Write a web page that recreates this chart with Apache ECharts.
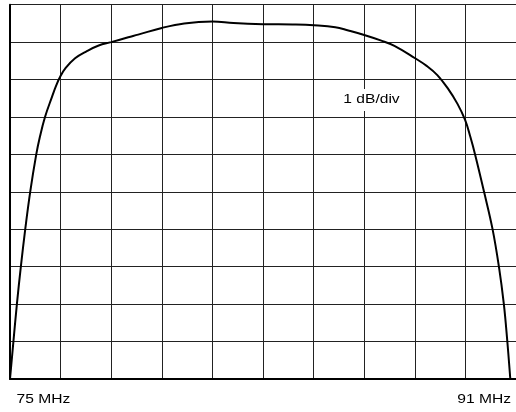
<!DOCTYPE html>
<html>
<head>
<meta charset="utf-8">
<script src="https://cdn.jsdelivr.net/npm/echarts@6/dist/echarts.min.js"></script>
<style>
html,body{margin:0;padding:0;background:#fff;}
#c{width:516px;height:412px;}
</style>
</head>
<body>
<div id="c"></div>
<script>
// Frequency above 75 MHz (MHz)
var freqOffset = [0, 0.109, 0.218, 0.343, 0.483, 0.639, 0.826, 0.951, 1.107, 1.325, 1.465, 1.59, 1.761, 2.057, 2.431, 2.805, 3.2, 3.74, 4.052, 4.8, 5.508, 6.405, 7.066, 8.0, 8.936, 9.61, 10.286, 10.70, 11.2, 11.74, 12.155, 12.81, 13.185, 13.512, 13.839, 14.15, 14.39, 14.556, 14.712, 14.99, 15.257, 15.46, 15.616, 15.725, 15.82];
// Relative response (dB)
var responseDb = [-10.0, -8.99, -8.0, -7.0, -5.99, -5.0, -4.02, -3.51, -3.0, -2.47, -2.15, -1.92, -1.69, -1.43, -1.24, -1.09, -1.0, -0.87, -0.80, -0.62, -0.50, -0.45, -0.49, -0.52, -0.53, -0.55, -0.60, -0.69, -0.81, -0.96, -1.10, -1.43, -1.64, -1.88, -2.23, -2.65, -3.08, -3.53, -4.02, -5.0, -5.99, -7.0, -8.0, -8.99, -10.0];
var freqLabels = ['75 MHz', '91 MHz'];
var scaleLabel = '1 dB/div';

var chart = echarts.init(document.getElementById('c'), null, {renderer: 'canvas'});
var pts = freqOffset.map(function (f, i) { return [f, responseDb[i]]; });
var font = '12px "Liberation Sans", Arial, sans-serif';
chart.setOption({
  animation: false,
  backgroundColor: '#fff',
  grid: {left: 10, right: -7.3, top: 4.7, bottom: 33},
  xAxis: {
    type: 'value', min: 0, max: 16, interval: 1.6,
    axisLine: {show: true, onZero: false, lineStyle: {color: '#000', width: 2}},
    axisTick: {show: false}, axisLabel: {show: false},
    splitLine: {show: true, lineStyle: {color: '#222', width: 1}}
  },
  yAxis: {
    type: 'value', min: -10, max: 0, interval: 1,
    axisLine: {show: true, lineStyle: {color: '#000', width: 2}},
    axisTick: {show: false}, axisLabel: {show: false},
    splitLine: {show: true, lineStyle: {color: '#222', width: 1}}
  },
  series: [{
    type: 'line', data: pts, showSymbol: false, smooth: 0.4,
    lineStyle: {color: '#000', width: 2}
  }],
  graphic: [
    {type: 'text', x: 16.5, y: 399.5, scaleX: 1.3, z: 10,
     style: {text: freqLabels[0], font: font, fill: '#000', align: 'left', verticalAlign: 'middle'}},
    {type: 'text', x: 511, y: 399.5, scaleX: 1.3, z: 10,
     style: {text: freqLabels[1], font: font, fill: '#000', align: 'right', verticalAlign: 'middle'}},
    {type: 'text', x: 342, y: 100, scaleX: 1.3, z: 10,
     style: {text: scaleLabel, font: font, fill: '#000', align: 'left', verticalAlign: 'middle',
             backgroundColor: '#fff', padding: [5, 1]}}
  ]
});
</script>
</body>
</html>
